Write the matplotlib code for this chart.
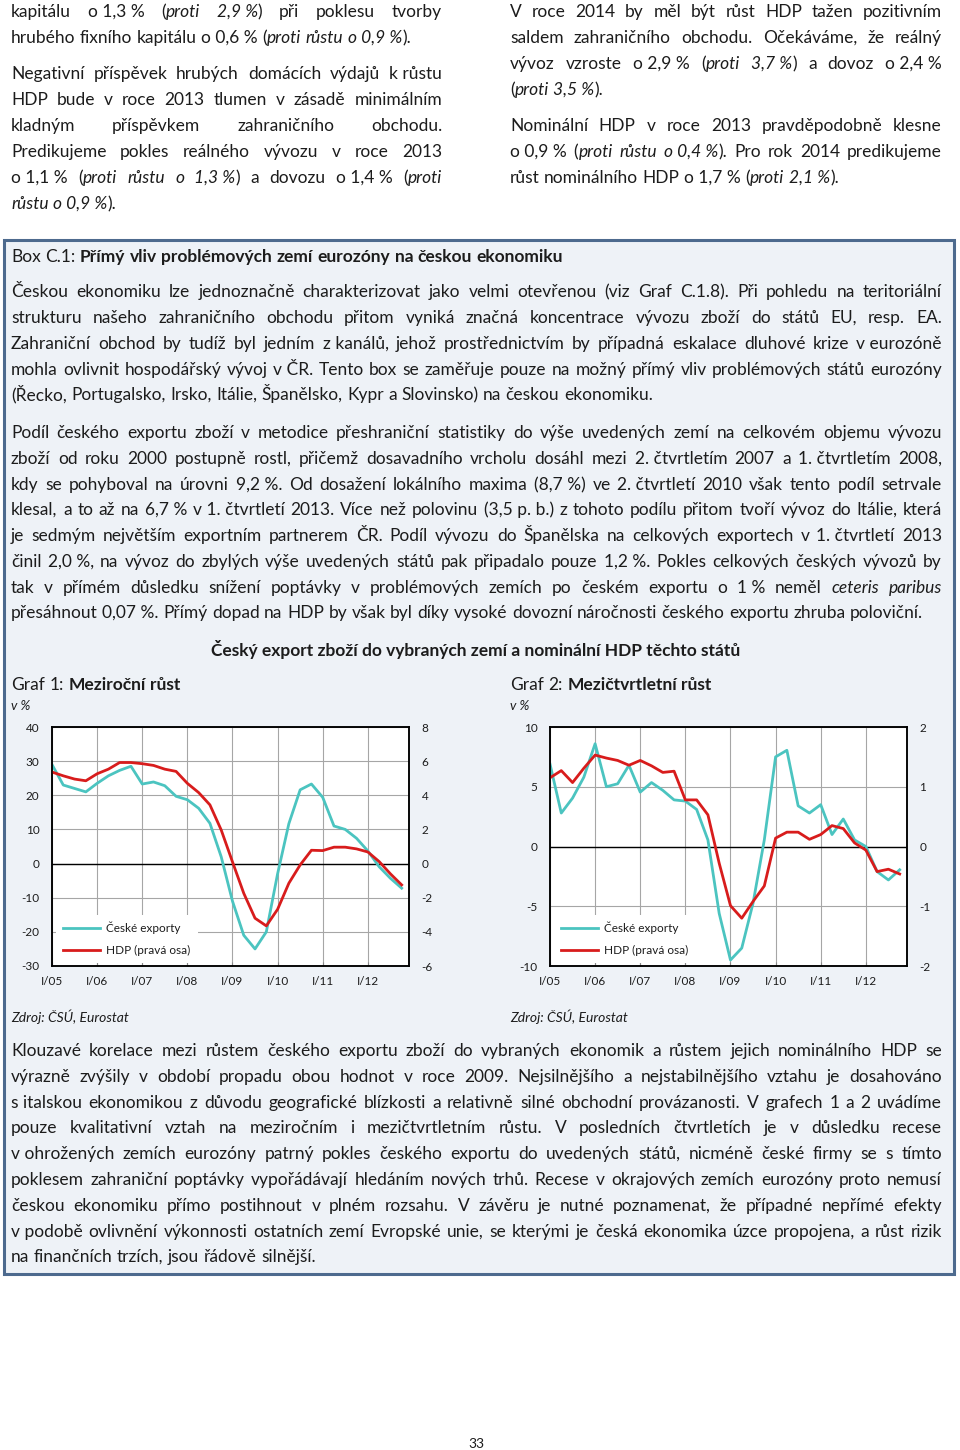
import numpy as np
import matplotlib
matplotlib.use('Agg')
import matplotlib.pyplot as plt
from matplotlib.patches import Rectangle

# quarterly data I/05 .. IV/12
quarters = np.arange(32)
year_ticks = np.arange(0, 29, 4)
year_labels = ['I/05', 'I/06', 'I/07', 'I/08', 'I/09', 'I/10', 'I/11', 'I/12']

exports_yoy = [29, 23, 22, 21, 23.5, 25.7, 27.3, 28.5, 23.3, 23.9, 22.8, 19.7,
               18.7, 16.2, 11.8, 2, -11, -21, -25, -20, -3, 11.7, 21.6, 23.3,
               19.4, 11, 10, 7.4, 3.7, -0.9, -4.3, -7.2]
gdp_yoy = [5.36, 5.14, 4.95, 4.85, 5.26, 5.53, 5.92, 5.92, 5.85, 5.75, 5.53, 5.4,
           4.7, 4.16, 3.44, 1.97, 0.1, -1.74, -3.2, -3.65, -2.68, -1.15, -0.08, 0.78,
           0.76, 0.96, 0.96, 0.86, 0.68, 0.12, -0.6, -1.25]

exports_qoq = [6.9, 2.8, 4.05, 5.8, 8.6, 5.0, 5.25, 6.8, 4.55, 5.35, 4.7, 3.9,
               3.8, 3.1, 0.55, -5.6, -9.5, -8.5, -4.75, 0.55, 7.5, 8.05, 3.4, 2.8,
               3.5, 1.0, 2.3, 0.55, 0.0, -2.1, -2.8, -1.95]
gdp_qoq = [1.15, 1.27, 1.07, 1.31, 1.53, 1.48, 1.44, 1.36, 1.44, 1.35, 1.24, 1.26,
           0.78, 0.78, 0.53, -0.28, -0.99, -1.2, -0.92, -0.66, 0.14, 0.24, 0.24, 0.12,
           0.2, 0.35, 0.3, 0.06, -0.06, -0.42, -0.38, -0.46]

legend_labels = ['České exporty', 'HDP (pravá osa)']

# page text: (baseline y in px, line, justified?)  _italic_  *bold*  ~ = no-break space
left_col = [
    (17, "kapitálu o~1,3~% (_proti 2,9~%_) při poklesu tvorby", True),
    (43, "hrubého fixního kapitálu o~0,6~% (_proti růstu o~0,9~%_).", False),
    (79, "Negativní příspěvek hrubých domácích výdajů k~růstu", True),
    (105, "HDP bude v roce 2013 tlumen v zásadě minimálním", True),
    (131, "kladným příspěvkem zahraničního obchodu.", True),
    (157, "Predikujeme pokles reálného vývozu v roce 2013", True),
    (183, "o~1,1~% (_proti růstu o 1,3~%_) a dovozu o~1,4~% (_proti_", True),
    (209, "_růstu o~0,9~%_).", False),
]
right_col = [
    (17, "V roce 2014 by měl být růst HDP tažen pozitivním", True),
    (43, "saldem zahraničního obchodu. Očekáváme, že reálný", True),
    (69, "vývoz vzroste o~2,9~% (_proti 3,7~%_) a dovoz o~2,4~%", True),
    (95, "(_proti 3,5~%_).", False),
    (131, "Nominální HDP v roce 2013 pravděpodobně klesne", True),
    (157, "o~0,9~% (_proti růstu o~0,4~%_). Pro rok 2014 predikujeme", True),
    (183, "růst nominálního HDP o~1,7~% (_proti 2,1~%_).", False),
]
box_text = [
    (262, "Box C.1: *Přímý vliv problémových zemí eurozóny na českou ekonomiku*", False),
    (297, "Českou ekonomiku lze jednoznačně charakterizovat jako velmi otevřenou (viz Graf C.1.8). Při pohledu na teritoriální", True),
    (323, "strukturu našeho zahraničního obchodu přitom vyniká značná koncentrace vývozu zboží do států EU, resp. EA.", True),
    (349, "Zahraniční obchod by tudíž byl jedním z~kanálů, jehož prostřednictvím by případná eskalace dluhové krize v~eurozóně", True),
    (375, "mohla ovlivnit hospodářský vývoj v~ČR. Tento box se zaměřuje pouze na možný přímý vliv problémových států eurozóny", True),
    (400, "(Řecko, Portugalsko, Irsko, Itálie, Španělsko, Kypr a Slovinsko) na českou ekonomiku.", False),
    (438, "Podíl českého exportu zboží v metodice přeshraniční statistiky do výše uvedených zemí na celkovém objemu vývozu", True),
    (464, "zboží od roku 2000 postupně rostl, přičemž dosavadního vrcholu dosáhl mezi 2.~čtvrtletím 2007 a 1.~čtvrtletím 2008,", True),
    (490, "kdy se pohyboval na úrovni 9,2~%. Od dosažení lokálního maxima (8,7~%) ve 2.~čtvrtletí 2010 však tento podíl setrvale", True),
    (515, "klesal, a to až na 6,7~% v~1.~čtvrtletí 2013. Více než polovinu (3,5~p.~b.) z tohoto podílu přitom tvoří vývoz do Itálie, která", True),
    (541, "je sedmým největším exportním partnerem ČR. Podíl vývozu do Španělska na celkových exportech v 1.~čtvrtletí 2013", True),
    (567, "činil 2,0~%, na vývoz do zbylých výše uvedených států pak připadalo pouze 1,2~%. Pokles celkových českých vývozů by", True),
    (593, "tak v přímém důsledku snížení poptávky v problémových zemích po českém exportu o 1~% neměl _ceteris paribus_", True),
    (618, "přesáhnout 0,07~%. Přímý dopad na HDP by však byl díky vysoké dovozní náročnosti českého exportu zhruba poloviční.", False),
    (1056, "Klouzavé korelace mezi růstem českého exportu zboží do vybraných ekonomik a růstem jejich nominálního HDP se", True),
    (1082, "výrazně zvýšily v období propadu obou hodnot v roce 2009. Nejsilnějšího a nejstabilnějšího vztahu je dosahováno", True),
    (1108, "s~italskou ekonomikou z důvodu geografické blízkosti a relativně silné obchodní provázanosti. V grafech 1 a 2 uvádíme", True),
    (1133, "pouze kvalitativní vztah na meziročním i mezičtvrtletním růstu. V posledních čtvrtletích je v důsledku recese", True),
    (1159, "v~ohrožených zemích eurozóny patrný pokles českého exportu do uvedených států, nicméně české firmy se s tímto", True),
    (1185, "poklesem zahraniční poptávky vypořádávají hledáním nových trhů. Recese v okrajových zemích eurozóny proto nemusí", True),
    (1211, "českou ekonomiku přímo postihnout v plném rozsahu. V závěru je nutné poznamenat, že případné nepřímé efekty", True),
    (1237, "v~podobě ovlivnění výkonnosti ostatních zemí Evropské unie, se kterými je česká ekonomika úzce propojena, a růst rizik", True),
    (1262, "na finančních trzích, jsou řádově silnější.", False),
]
chart_titles = ["Graf 1: *Meziroční růst*", "Graf 2: *Mezičtvrtletní růst*"]

W, H = 960, 1450
FONT = ['Lato', 'DejaVu Sans']
INK = '#1c1c1c'
TEAL = '#4bc4c0'
RED = '#d81c1c'
BODY = 12.5

plt.rcParams['font.family'] = FONT
plt.rcParams['axes.unicode_minus'] = False
fig = plt.figure(figsize=(W / 100, H / 100), dpi=100)
fig.patch.set_facecolor('white')


def fx(x):
    return x / W


def fy(y):
    return 1 - y / H


# blue box
fig.add_artist(Rectangle((fx(4), fy(1274)), (954 - 4) / W, (1274 - 240) / H,
                         transform=fig.transFigure, facecolor='#eef2f7',
                         edgecolor='#4d6a8e', linewidth=2.2, zorder=-10))

laid = []


def parse(line):
    words, ital, bold = [], False, False
    for w in line.split(' '):
        runs, buf = [], ''
        for ch in w:
            if ch in '_*':
                if buf:
                    runs.append((buf, ital, bold))
                    buf = ''
                if ch == '_':
                    ital = not ital
                else:
                    bold = not bold
            else:
                buf += '\u00a0' if ch == '~' else ch
        if buf:
            runs.append((buf, ital, bold))
        words.append(runs)
    return words


def put_line(line, x0, x1, base, justify):
    objs = []
    for runs in parse(line):
        objs.append([fig.text(0, 0, s, fontsize=BODY, color=INK, va='baseline',
                              style='italic' if it else 'normal',
                              weight='bold' if bd else 'normal')
                     for s, it, bd in runs])
    laid.append((objs, x0, x1, base, justify))


for base, line, j in left_col:
    put_line(line, 11, 442, base, j)
for base, line, j in right_col:
    put_line(line, 510, 942, base, j)
for base, line, j in box_text:
    put_line(line, 11, 942, base, j)
put_line(chart_titles[0], 11, 440, 690, False)
put_line(chart_titles[1], 510, 940, 690, False)

renderer = fig.canvas.get_renderer()


def wid(t):
    return t.get_window_extent(renderer).width


probe = fig.text(0, 0, 'a a', fontsize=BODY)
probe2 = fig.text(0, 0, 'aa', fontsize=BODY)
space = wid(probe) - wid(probe2)

# shrink the body font if a justified line would not fit
ratio = 0
for objs, x0, x1, base, j in laid:
    if j:
        nat = sum(wid(t) for w in objs for t in w) + space * (len(objs) - 1)
        ratio = max(ratio, nat / (x1 - x0))
scale = min(1.0, 0.985 / ratio) if ratio else 1.0
for objs, *_ in laid:
    for w in objs:
        for t in w:
            t.set_fontsize(BODY * scale)
space *= scale
probe.remove()
probe2.remove()

for objs, x0, x1, base, j in laid:
    ws = [[wid(t) for t in w] for w in objs]
    tot = sum(sum(w) for w in ws)
    gap = (x1 - x0 - tot) / (len(objs) - 1) if j and len(objs) > 1 else space
    x = x0
    for w, ww in zip(objs, ws):
        for t, a in zip(w, ww):
            t.set_position((fx(x), fy(base)))
            x += a
        x += gap

fig.text(fx(476), fy(656), 'Český export zboží do vybraných zemí a nominální HDP těchto států',
         fontsize=BODY * scale, weight='bold', color=INK, ha='center', va='baseline')
for x in (11, 510):
    fig.text(fx(x), fy(710), 'v %', fontsize=9.5, style='italic', color=INK, va='baseline')
    fig.text(fx(x), fy(1022), 'Zdroj: ČSÚ, Eurostat', fontsize=10, style='italic',
             color=INK, va='baseline')
fig.text(fx(476), fy(1448), '33', fontsize=10, color=INK, ha='center', va='baseline')


def chart(left, exp, gdp, ylim_l, ylim_r, step_l, step_r):
    ax = fig.add_axes([fx(left), fy(966), 357 / W, 239 / H])
    ax.set_facecolor('white')
    ax.set_xlim(0, 31.65)
    ax.set_ylim(*ylim_l)
    ax.set_yticks(np.arange(ylim_l[0], ylim_l[1] + 1, step_l))
    ax.set_xticks(year_ticks)
    ax.set_xticklabels(year_labels)
    ax.grid(True, color='#a6a6a6', lw=0.8)
    ax.set_axisbelow(True)
    ax.axhline(0, color='black', lw=1.0, zorder=1)
    l1, = ax.plot(quarters, exp, color=TEAL, lw=2.0, solid_joinstyle='round', zorder=2)
    ax2 = ax.twinx()
    ax2.set_ylim(*ylim_r)
    ax2.set_yticks(np.arange(ylim_r[0], ylim_r[1] + 1, step_r))
    l2, = ax2.plot(quarters, gdp, color=RED, lw=2.0, solid_joinstyle='round')
    for a in (ax, ax2):
        a.tick_params(axis='y', length=0, pad=9, labelsize=8.5, labelcolor=INK)
        for s in a.spines.values():
            s.set_color('black')
            s.set_linewidth(1.1)
    ax.tick_params(axis='x', direction='in', length=3, color='#888888', pad=7,
                   labelsize=8.5, labelcolor=INK)
    leg = ax2.legend([l1, l2], legend_labels, loc='lower left', bbox_to_anchor=(0.01, 0.012),
                     borderaxespad=0, fontsize=8.5, frameon=True, facecolor='white',
                     edgecolor='none', framealpha=1, fancybox=False, handlelength=3.2,
                     handletextpad=0.5, labelspacing=0.9, borderpad=0.6)
    for t in leg.get_texts():
        t.set_color(INK)
    return ax


chart(52, exports_yoy, gdp_yoy, (-30, 40), (-6, 8), 10, 2)
chart(550, exports_qoq, gdp_qoq, (-10, 10), (-2, 2), 5, 1)

fig.savefig('out.png', dpi=100)
